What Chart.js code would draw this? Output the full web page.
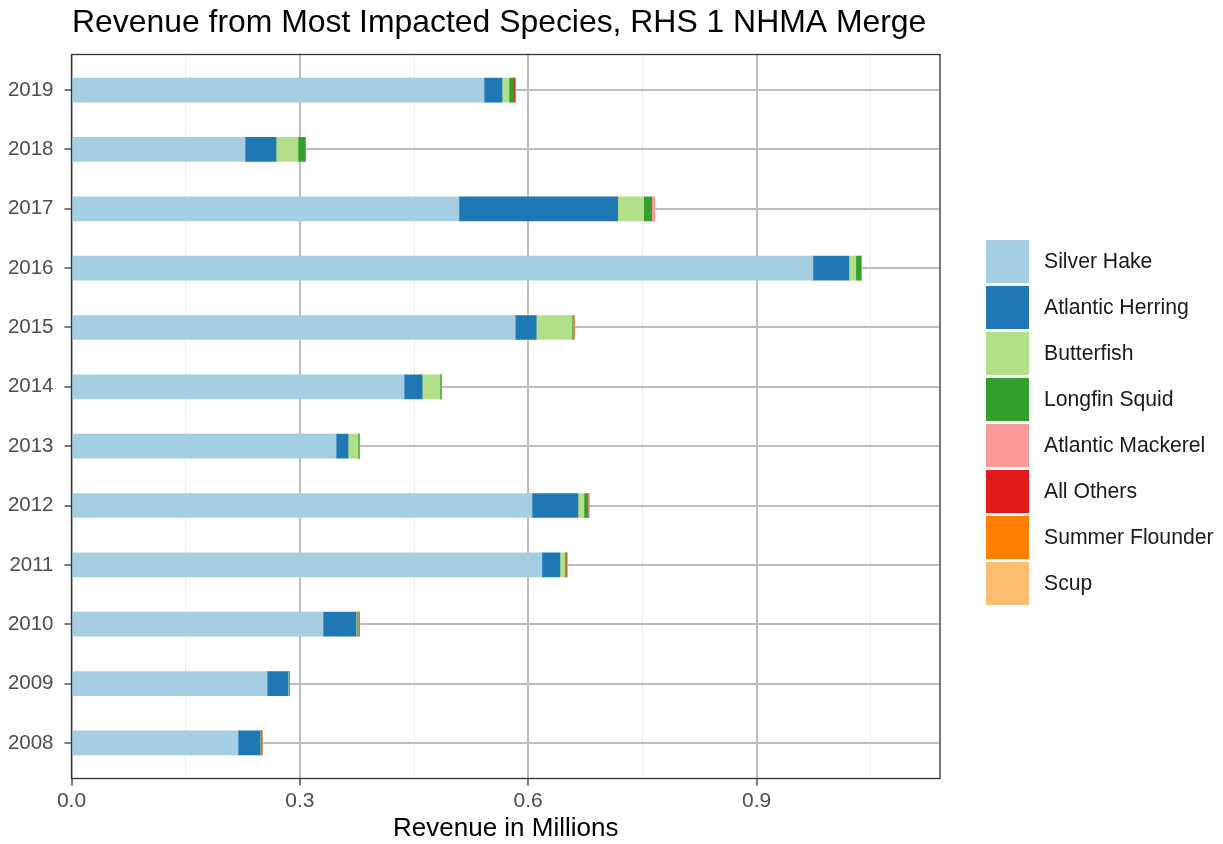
<!DOCTYPE html>
<html>
<head>
<meta charset="utf-8">
<script src="https://cdn.jsdelivr.net/npm/chart.js@4"></script>
<style>
  body { margin: 0; background: #fff; }
  .wrap { position: relative; width: 1223px; height: 844px; }
  .legend { position: absolute; left: 986px; top: 240px; font-family: "Liberation Sans", Arial, sans-serif; font-size: 21.2px; color: #1a1a1a; }
  .legend div { position: relative; height: 46px; }
  .legend span.key { position: absolute; left: 0; top: 0; width: 43px; height: 43px; }
  .legend span.txt { position: absolute; left: 58px; top: 21px; transform: translateY(-50%); white-space: nowrap; }
</style>
</head>
<body>
<div class="wrap">
  <canvas id="chart1" width="1223" height="844"></canvas>
  <div class="legend" id="legend"></div>
</div>
<script>
const years = [2008, 2009, 2010, 2011, 2012, 2013, 2014, 2015, 2016, 2017, 2018, 2019];
const species = ["Silver Hake", "Atlantic Herring", "Butterfish", "Longfin Squid", "Atlantic Mackerel", "All Others", "Summer Flounder", "Scup"];
const colors = ["#A6CEE3", "#1F78B4", "#B2DF8A", "#33A02C", "#FB9A99", "#E31A1C", "#FF7F00", "#FDBF6F"];

// revenue in millions, 2008 .. 2019
const silverHake = [0.2188, 0.257, 0.3305, 0.618, 0.605, 0.3476, 0.437, 0.583, 0.974, 0.509, 0.228, 0.542];
const atlanticHerring = [0.0289, 0.0275, 0.0433, 0.0236, 0.0603, 0.0157, 0.0236, 0.0275, 0.0472, 0.2086, 0.0407, 0.0236];
const butterfish = [0.0005, 0.0013, 0.0013, 0.0066, 0.0079, 0.0131, 0.0236, 0.0472, 0.0092, 0.0341, 0.0289, 0.0092];
const longfinSquid = [0.0013, 0.0007, 0.0013, 0.0015, 0.0052, 0.0013, 0.0013, 0.0013, 0.0066, 0.0105, 0.0092, 0.0062];
const atlanticMackerel = [0, 0, 0.0008, 0, 0.0008, 0.0007, 0, 0.0013, 0, 0.0039, 0, 0];
const allOthers = [0.0007, 0, 0.0004, 0, 0.0005, 0, 0, 0, 0, 0, 0, 0.0017];
const summerFlounder = [0, 0, 0.0008, 0.0015, 0, 0, 0, 0, 0, 0, 0, 0];
const scup = [0, 0, 0, 0, 0, 0, 0, 0, 0.001, 0, 0, 0];

const xTicks = [0, 0.15, 0.3, 0.45, 0.6, 0.75, 0.9, 1.05];
const chartTitle = "Revenue from Most Impacted Species, RHS 1 NHMA Merge";
const font = "'Liberation Sans', Arial, sans-serif";

const series = [silverHake, atlanticHerring, butterfish, longfinSquid, atlanticMackerel, allOthers, summerFlounder, scup];

const datasets = series.map(function (vals, i) {
  return {
    label: species[i],
    data: vals.map((v, j) => ({ x: v, y: j })),
    backgroundColor: colors[i],
    borderWidth: 0,
    barThickness: 24,
  };
});

const isMajor = (v) => Math.abs(Math.round(v / 0.3) * 0.3 - v) < 1e-6;

const frame = {
  id: "frame",
  afterDraw(chart) {
    const { ctx, chartArea: a } = chart;
    ctx.save();
    ctx.strokeStyle = "#333333";
    ctx.lineWidth = 1.3;
    ctx.strokeRect(a.left, a.top, a.right - a.left, a.bottom - a.top);
    ctx.fillStyle = "#000";
    ctx.font = "31.9px " + font;
    ctx.textBaseline = "alphabetic";
    ctx.textAlign = "left";
    ctx.fillText(chartTitle, 72, 32);
    ctx.restore();
  },
};

const ctx = document.getElementById("chart1").getContext("2d");
new Chart(ctx, {
  type: "bar",
  data: { datasets: datasets },
  options: {
    indexAxis: "y",
    responsive: false,
    animation: false,
    layout: { padding: { top: 54.5, right: 283, bottom: 0, left: 0 } },
    plugins: { legend: { display: false }, tooltip: { enabled: false } },
    scales: {
      x: {
        type: "linear",
        stacked: true,
        min: 0,
        max: 1.141,
        afterBuildTicks: (s) => { s.ticks = xTicks.map((v) => ({ value: v })); },
        afterFit: (s) => { s.height = 65.5; },
        border: { display: false },
        grid: {
          color: (c) => (c.tick && isMajor(c.tick.value) ? "#bdbdbd" : "#ebebeb"),
          lineWidth: (c) => (c.tick && isMajor(c.tick.value) ? 2 : 1),
          tickColor: (c) => (c.tick && isMajor(c.tick.value) ? "#333333" : "rgba(0,0,0,0)"),
          tickLength: 7,
          tickWidth: 1.3,
        },
        ticks: {
          autoSkip: false,
          maxRotation: 0,
          padding: 3,
          color: "#4d4d4d",
          font: { family: font, size: 21 },
          callback: (v) => (isMajor(v) ? v.toFixed(1) : ""),
        },
        title: {
          display: true,
          text: "Revenue in Millions",
          color: "#000",
          font: { family: font, size: 26 },
          padding: { top: 0, bottom: 0 },
        },
      },
      y: {
        type: "linear",
        stacked: true,
        offset: false,
        min: -0.6,
        max: 11.6,
        afterBuildTicks: (s) => { s.ticks = years.map((y, i) => ({ value: i })); },
        afterFit: (s) => { s.width = 71.5; },
        border: { display: false },
        grid: {
          offset: false,
          color: "#bdbdbd",
          lineWidth: 2,
          tickColor: "#333333",
          tickLength: 7,
          tickWidth: 1.3,
        },
        ticks: {
          autoSkip: false,
          padding: 11,
          color: "#4d4d4d",
          font: { family: font, size: 20.5 },
          callback: (v) => years[v],
        },
      },
    },
  },
  plugins: [frame],
});

const legend = document.getElementById("legend");
species.forEach(function (name, i) {
  const row = document.createElement("div");
  row.innerHTML = '<span class="key" style="background:' + colors[i] + '"></span><span class="txt">' + name + "</span>";
  legend.appendChild(row);
});
</script>
</body>
</html>
